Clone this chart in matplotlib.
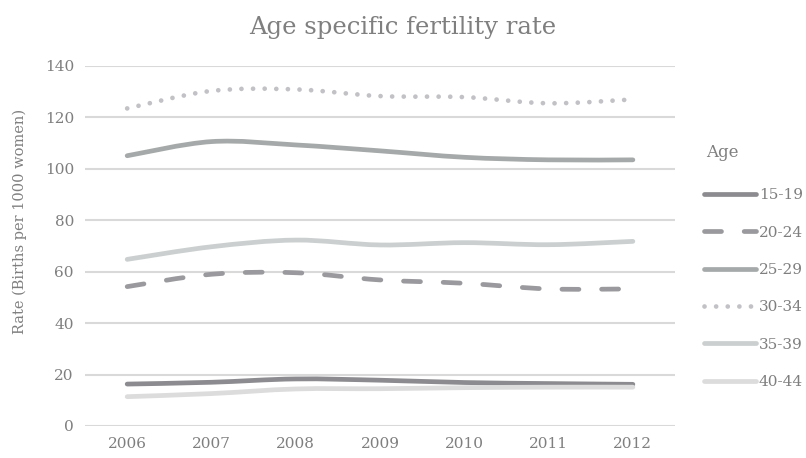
import numpy as np
import matplotlib
matplotlib.use("Agg")
import matplotlib.pyplot as plt
from matplotlib.path import Path
from matplotlib.patches import PathPatch
from matplotlib.lines import Line2D

years = [2006, 2007, 2008, 2009, 2010, 2011, 2012]
age_groups = ["15-19", "20-24", "25-29", "30-34", "35-39", "40-44"]

rate_15_19 = [16.3, 17.0, 18.3, 17.8, 16.9, 16.5, 16.2]
rate_20_24 = [54.2, 59.0, 59.6, 56.8, 55.5, 53.3, 53.3]
rate_25_29 = [105.1, 110.6, 109.3, 107.0, 104.5, 103.5, 103.5]
rate_30_34 = [123.5, 130.3, 130.9, 128.3, 127.9, 125.5, 127.0]
rate_35_39 = [64.8, 69.7, 72.3, 70.4, 71.3, 70.5, 71.8]
rate_40_44 = [11.4, 12.6, 14.4, 14.5, 14.9, 15.1, 15.1]

series = [rate_15_19, rate_20_24, rate_25_29, rate_30_34, rate_35_39, rate_40_44]
colors = ["#8c8c90", "#9a9a9e", "#a6a9a9", "#c2c2c6", "#cbcfcf", "#dcdcdc"]
styles = ["solid", (0, (3.6, 4.8)), "solid", (0, (0.01, 2.45)), "solid", "solid"]

LW = 3.4
TEXT = "#7f7f7f"


def smooth_path(x, y):
    # excel-style smoothed line: catmull-rom segments as cubic beziers
    pts = np.column_stack([x, y]).astype(float)
    ext = np.vstack([pts[0], pts, pts[-1]])
    verts = [pts[0]]
    codes = [Path.MOVETO]
    for i in range(len(pts) - 1):
        p0, p1, p2, p3 = ext[i], ext[i + 1], ext[i + 2], ext[i + 3]
        c1 = p1 + (p2 - p0) / 6.0
        c2 = p2 - (p3 - p1) / 6.0
        verts += [c1, c2, p2]
        codes += [Path.CURVE4] * 3
    return Path(verts, codes)


plt.rcParams["font.family"] = ["DejaVu Serif"]

fig = plt.figure(figsize=(8.06, 4.58), dpi=100)
ax = fig.add_axes([0.1055, 0.0699, 0.732, 0.786])

handles = []
for vals, col, ls, lab in zip(series, colors, styles, age_groups):
    patch = PathPatch(smooth_path(years, vals), fill=False, edgecolor=col,
                      linewidth=LW, linestyle=ls, capstyle="round",
                      joinstyle="round")
    ax.add_patch(patch)
    handles.append(Line2D([], [], color=col, linewidth=LW, linestyle=ls,
                          solid_capstyle="round", dash_capstyle="round",
                          label=lab))

ax.set_xlim(2005.5, 2012.5)
ax.set_ylim(0, 140)
ax.set_xticks(years)
ax.set_yticks(range(0, 141, 20))
ax.grid(axis="y", color="#d9d9d9", linewidth=1.5)
ax.set_axisbelow(True)
for s in ax.spines.values():
    s.set_visible(False)
ax.tick_params(length=0, labelsize=11, labelcolor=TEXT, pad=8)

fig.text(0.025, 0.517, "Rate (Births per 1000 women)", rotation=90,
         ha="center", va="center", fontsize=10.5, color=TEXT)
fig.text(0.5, 0.941, "Age specific fertility rate", ha="center", va="center",
         fontsize=17.5, color=TEXT)

fig.text(0.876, 0.666, "Age", ha="left", va="center", fontsize=12, color=TEXT)
leg = fig.legend(handles=handles, loc="upper left",
                 bbox_to_anchor=(0.857, 0.619), frameon=False, fontsize=11,
                 handlelength=3.4, handletextpad=0.15, labelspacing=1.53)
for t in leg.get_texts():
    t.set_color(TEXT)

fig.savefig("out.png", dpi=100)
